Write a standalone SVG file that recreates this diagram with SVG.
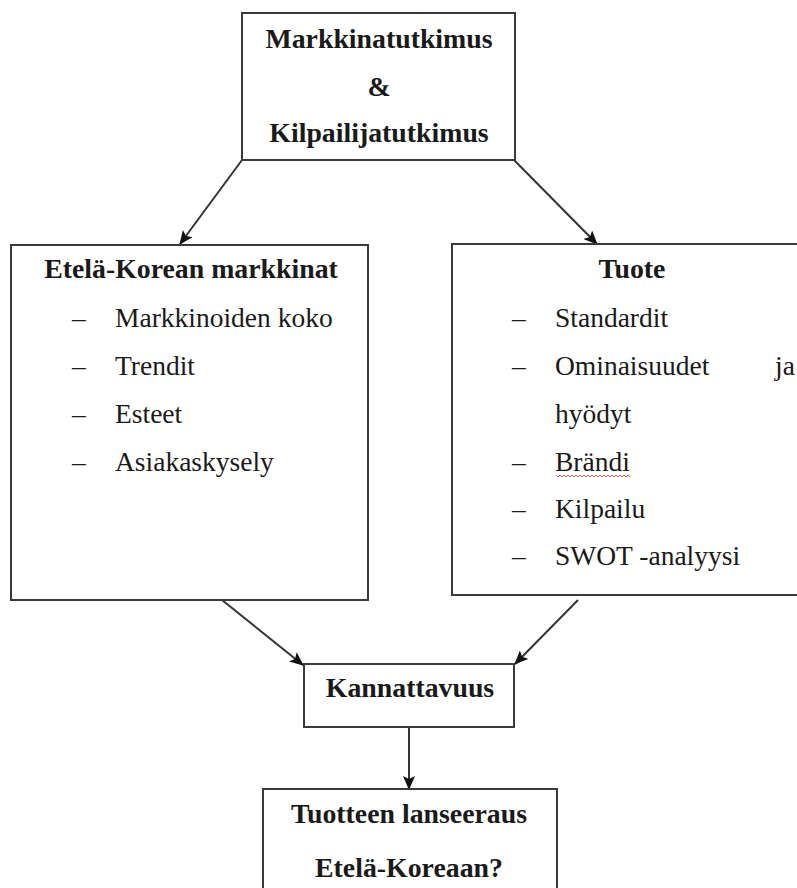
<svg xmlns="http://www.w3.org/2000/svg" width="797" height="888" viewBox="0 0 797 888">
<style>
.box{fill:#fff;stroke:#3a3a3a;stroke-width:2}
.b{font-family:'Liberation Serif','DejaVu Serif',serif;font-weight:bold;font-size:27.8px;fill:#1a1a1a;text-anchor:middle}
.r{font-family:'Liberation Serif','DejaVu Serif',serif;font-size:27.5px;fill:#1a1a1a}
.c{stroke:#333;stroke-width:2;fill:none;marker-end:url(#ah)}
</style>
<defs>
<marker id="ah" viewBox="0 0 14 12" refX="13" refY="6" markerWidth="14" markerHeight="12" markerUnits="userSpaceOnUse" orient="auto">
<path d="M0,0 L14,6 L0,12 L3,6 z" fill="#111"/>
</marker>
</defs>
<rect width="797" height="888" fill="#fff"/>
<g id="connectors">
<line class="c" x1="242" y1="160" x2="180" y2="244"/>
<line class="c" x1="514" y1="160" x2="597" y2="244"/>
<line class="c" x1="222" y1="600" x2="303" y2="665"/>
<line class="c" x1="578" y1="600" x2="515" y2="664"/>
<line class="c" x1="409" y1="727" x2="409" y2="789"/>
</g>
<g id="top">
<rect class="box" x="242" y="13" width="273" height="147"/>
<text class="b" x="379" y="48">Markkinatutkimus</text>
<text class="b" x="379" y="96">&amp;</text>
<text class="b" x="379" y="142">Kilpailijatutkimus</text>
</g>
<g id="left">
<rect class="box" x="11" y="245" width="357" height="355"/>
<text class="b" x="191" y="278">Etelä-Korean markkinat</text>
<text class="r" x="72" y="327">–</text><text class="r" x="115" y="327">Markkinoiden koko</text>
<text class="r" x="72" y="375">–</text><text class="r" x="115" y="375">Trendit</text>
<text class="r" x="72" y="423">–</text><text class="r" x="115" y="423">Esteet</text>
<text class="r" x="72" y="471">–</text><text class="r" x="115" y="471">Asiakaskysely</text>
</g>
<g id="right">
<rect class="box" x="452" y="244" width="360" height="351"/>
<text class="b" x="632" y="278">Tuote</text>
<text class="r" x="512" y="327">–</text><text class="r" x="555" y="327">Standardit</text>
<text class="r" x="512" y="375">–</text><text class="r" x="555" y="375">Ominaisuudet</text><text class="r" x="775" y="375">ja</text>
<text class="r" x="555" y="423">hyödyt</text>
<text class="r" x="512" y="471">–</text><text class="r" x="555" y="471">Brändi</text>
<path d="M556,475 l2,2 l2,-2 l2,2 l2,-2 l2,2 l2,-2 l2,2 l2,-2 l2,2 l2,-2 l2,2 l2,-2 l2,2 l2,-2 l2,2 l2,-2 l2,2 l2,-2 l2,2 l2,-2 l2,2 l2,-2 l2,2 l2,-2 l2,2 l2,-2 l2,2 l2,-2 l2,2 l2,-2 l2,2 l2,-2 l2,2 l2,-2 l2,2 l2,-2 l2,2" fill="none" stroke="#c44" stroke-width="0.9"/>
<text class="r" x="512" y="518">–</text><text class="r" x="555" y="518">Kilpailu</text>
<text class="r" x="512" y="565">–</text><text class="r" x="555" y="565">SWOT -analyysi</text>
</g>
<g id="kannattavuus">
<rect class="box" x="304" y="664" width="210" height="63"/>
<text class="b" x="410" y="697">Kannattavuus</text>
</g>
<g id="lanseeraus">
<rect class="box" x="263" y="789" width="294" height="110"/>
<text class="b" x="409" y="823">Tuotteen lanseeraus</text>
<text class="b" x="409" y="877">Etelä-Koreaan?</text>
</g>
</svg>
